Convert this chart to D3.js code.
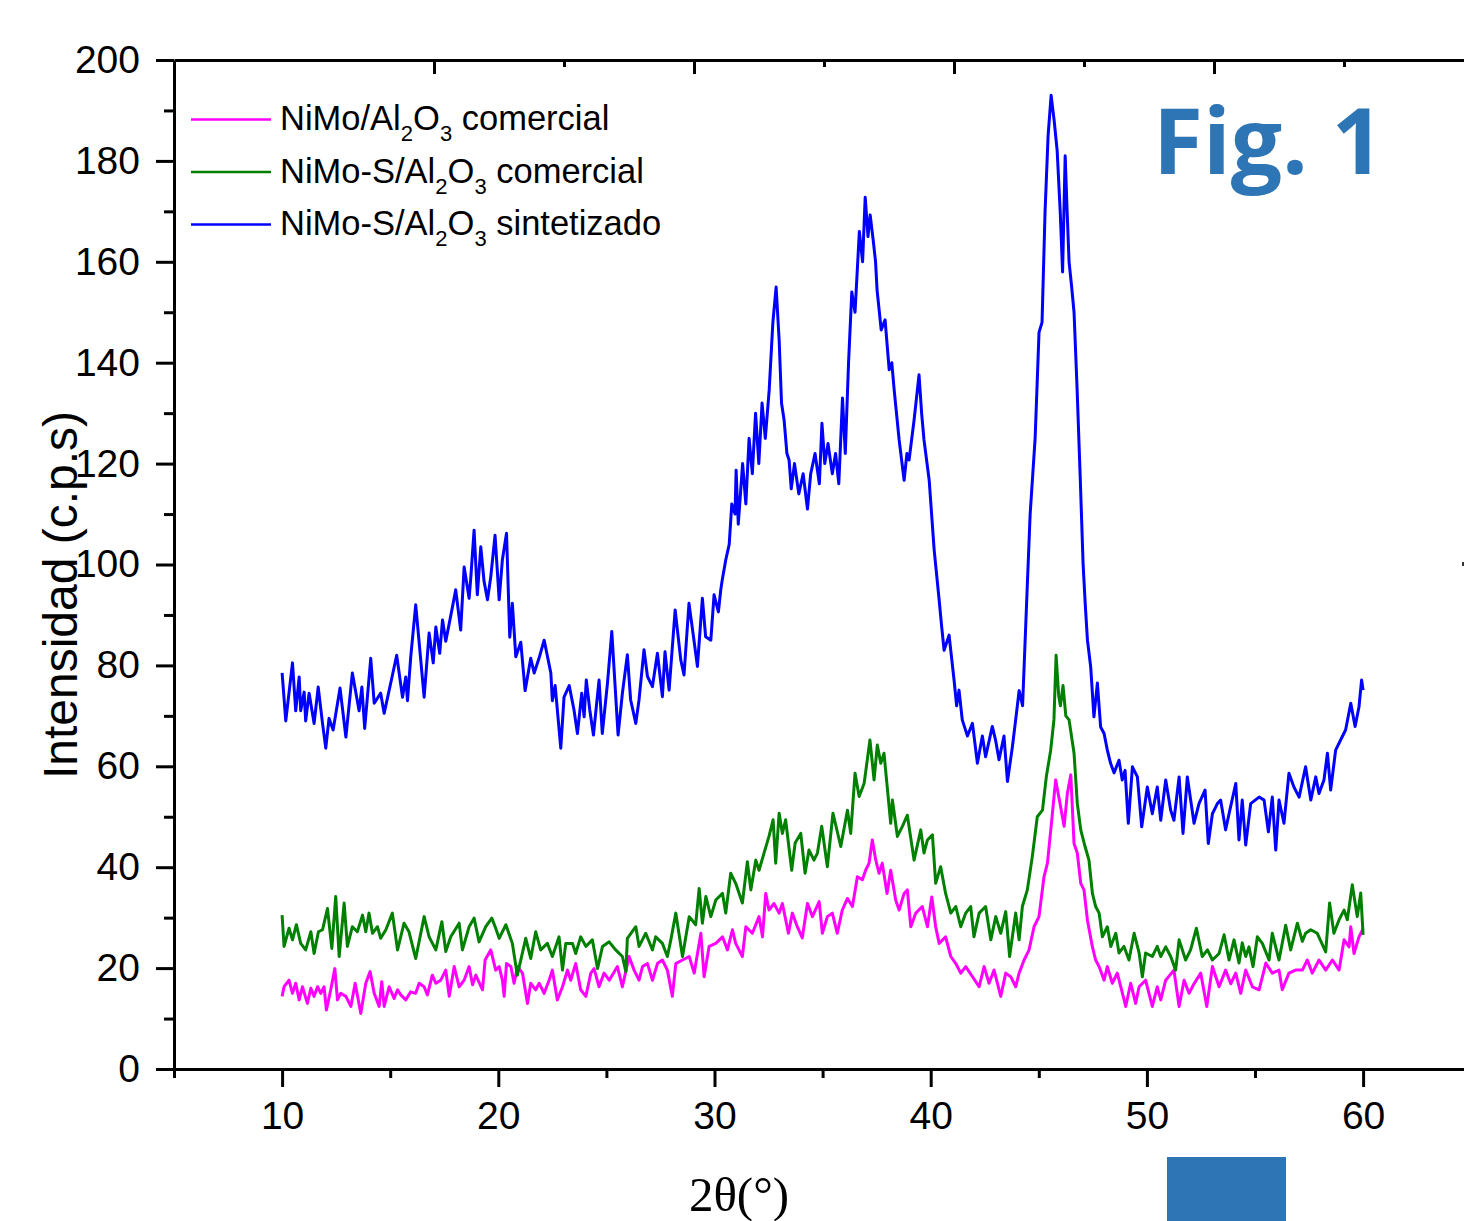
<!DOCTYPE html>
<html>
<head>
<meta http-equiv="Content-Type" content="text/html;charset=utf-8">
<title>Fig. 1</title>
<script src="https://d3js.org/d3.v7.min.js"></script>
<style>
  html, body { margin: 0; padding: 0; background: #fff; }
  svg { display: block; font-family: "Liberation Sans", Arial, sans-serif; }
  .axis path, .axis line { stroke: #000; stroke-width: 3px; }
  .axis text { font-size: 39px; fill: #000; font-family: "Liberation Sans", Arial, sans-serif; }
  .serie { fill: none; stroke-width: 3px; stroke-linejoin: round; }
</style>
</head>
<body>
<script>

// 2theta ticks
var xTicks = [10, 20, 30, 40, 50, 60];
var xMinor = [5, 15, 25, 35, 45, 55, 65];
var yTicks = [0, 20, 40, 60, 80, 100, 120, 140, 160, 180, 200];
var yMinor = [10, 30, 50, 70, 90, 110, 130, 150, 170, 190];
// top frame axis (no labels)
var topTicks = [1, 2, 3, 4, 5];
var topMinor = [1.5, 2.5, 3.5, 4.5];

var names = ["NiMo/Al_2O_3 comercial", "NiMo-S/Al_2O_3 comercial", "NiMo-S/Al_2O_3 sintetizado"];
var colors = ["#ff00ff", "#008000", "#0000ff"];

// [2theta, cps]
var pinkData = [[10.0,14.4],[10.09,16.3],[10.32,17.6],[10.48,15],[10.63,17],[10.79,13.7],[10.94,16.3],[11.17,13],[11.33,16],[11.48,14.4],[11.64,16.3],[11.79,15],[11.94,16.3],[12.05,11.7],[12.25,15.7],[12.44,19.9],[12.56,13.7],[12.71,15],[12.95,14.4],[13.18,12.4],[13.38,17],[13.64,11],[13.87,17],[14.07,19.3],[14.26,15],[14.49,12.4],[14.61,17.3],[14.72,12.4],[14.95,16.3],[15.18,14],[15.34,15.7],[15.49,14.7],[15.72,13.7],[15.95,15.3],[16.18,15],[16.34,17],[16.57,16.3],[16.72,14.7],[16.95,18.6],[17.11,17],[17.34,17.6],[17.57,19.6],[17.73,14.4],[17.96,20.3],[18.19,16.3],[18.42,17.6],[18.65,20.3],[18.81,16.7],[18.96,18.6],[19.27,15.7],[19.39,21.6],[19.65,23.6],[19.88,19.6],[20.04,20.3],[20.19,17.6],[20.27,14.4],[20.38,20.9],[20.58,20.3],[20.73,17],[20.89,20.3],[21.12,19],[21.35,13],[21.5,17],[21.73,15.7],[21.89,17],[22.12,15],[22.35,17.6],[22.5,19.6],[22.73,13.7],[22.97,16.3],[23.2,19.6],[23.35,17.6],[23.58,20.9],[23.81,15.7],[24.05,14.4],[24.28,19],[24.43,19.9],[24.66,16.3],[24.89,19],[25.13,17.6],[25.51,20.3],[25.74,16.3],[26.05,22.3],[26.28,19.6],[26.51,17.6],[26.67,20.3],[26.9,20.9],[27.13,17.6],[27.36,20.9],[27.59,21.6],[27.82,19.6],[28.05,14.4],[28.21,20.9],[28.52,21.6],[28.83,22.3],[29.06,19],[29.37,26.9],[29.52,18.3],[29.75,24.3],[30.06,24.9],[30.37,26.2],[30.6,23.6],[30.83,27.6],[30.98,24.9],[31.29,22.3],[31.45,28.2],[31.75,26.9],[32.06,30.2],[32.22,26.2],[32.37,34.8],[32.52,31.5],[32.75,32.8],[32.99,30.9],[33.14,32.8],[33.42,26.9],[33.6,30.9],[33.83,28.2],[34.06,26],[34.3,32.8],[34.53,30.2],[34.84,33.2],[34.99,26.9],[35.22,30.2],[35.45,30.9],[35.68,26.9],[35.91,31.5],[36.15,33.8],[36.38,32.2],[36.61,38.1],[36.84,37.5],[36.99,39.4],[37.15,40.8],[37.3,45.4],[37.46,41.4],[37.61,38.8],[37.76,40.8],[37.98,34.8],[38.15,39.4],[38.38,33.5],[38.54,31.5],[38.77,34.8],[38.92,35.5],[39.08,28.2],[39.31,30.9],[39.61,32.2],[39.85,28.2],[40.05,34.1],[40.23,28.2],[40.39,24.9],[40.69,26.2],[40.93,22.3],[41.16,20.9],[41.39,19],[41.62,20.3],[41.93,18.3],[42.24,16.3],[42.47,20.3],[42.7,17],[42.93,19.6],[43.24,14.4],[43.47,19],[43.7,18.3],[43.93,16.3],[44.09,19],[44.32,21.6],[44.55,23.6],[44.78,28.2],[45.01,30.2],[45.24,38.1],[45.4,40.8],[45.6,49.4],[45.78,57.3],[46.01,52],[46.17,48.1],[46.32,54.6],[46.48,58.3],[46.63,44.7],[46.78,42.8],[46.94,36.8],[47.09,35.5],[47.25,29.5],[47.48,24.2],[47.63,21.6],[47.79,20.3],[48.02,17.6],[48.17,20.3],[48.4,17],[48.63,19],[48.87,15],[49.02,12.4],[49.25,17],[49.48,13],[49.64,16.3],[49.94,17.6],[50.25,12.4],[50.48,16.3],[50.64,13.7],[50.87,17.6],[51.25,19.6],[51.49,12.4],[51.72,17.6],[51.95,15],[52.18,16.9],[52.49,19],[52.77,12.4],[53.03,20.3],[53.34,16.3],[53.64,19.6],[53.88,16.9],[54.11,19],[54.34,15],[54.57,19.6],[54.88,16.3],[55.19,15.7],[55.5,21],[55.8,19],[56.11,19.6],[56.26,15.7],[56.57,19],[56.88,19.6],[57.19,19.6],[57.42,21.6],[57.65,19],[57.96,21.6],[58.27,19.6],[58.58,21.6],[58.89,19.6],[59.12,25.6],[59.35,24.2],[59.43,28.2],[59.58,22.9],[59.81,26.2],[60.0,27.8]];

var greenData = [[10.0,30.5],[10.09,24.3],[10.32,27.9],[10.48,25.6],[10.66,28.6],[10.86,24.9],[11.09,23.6],[11.33,27.2],[11.48,22.9],[11.68,27.2],[11.87,27.6],[12.1,31.8],[12.3,23.9],[12.48,34.2],[12.64,22.3],[12.87,32.9],[13.02,24.3],[13.25,28.2],[13.48,27.2],[13.72,30.5],[13.87,27.2],[14.02,30.9],[14.18,26.9],[14.41,28.2],[14.56,25.9],[14.8,27.6],[15.1,30.9],[15.34,23.6],[15.64,28.9],[15.87,27.2],[16.18,21.9],[16.57,30.2],[16.8,26.2],[17.11,23.6],[17.39,29.2],[17.57,23.3],[17.8,26.2],[18.19,28.9],[18.34,23.6],[18.65,28.2],[18.88,29.9],[19.11,25.2],[19.42,28.2],[19.7,29.9],[19.88,27.9],[20.04,25.9],[20.35,28.6],[20.65,24.9],[20.88,18.6],[21.27,25.9],[21.5,21.9],[21.73,27.2],[21.96,23.6],[22.27,24.9],[22.5,22.3],[22.81,26.2],[22.97,19.6],[23.12,24.9],[23.43,24.9],[23.58,22.9],[23.81,26.2],[24.05,24.3],[24.35,25.6],[24.59,19.9],[24.82,24.3],[25.13,25.2],[25.43,23.6],[25.74,22.3],[25.9,19.3],[25.97,25.9],[26.36,28.2],[26.51,24.3],[26.82,26.9],[27.13,23.6],[27.28,26.2],[27.59,24.9],[27.82,22.3],[27.98,25.6],[28.21,30.9],[28.52,22.3],[28.83,30.2],[29.13,28.6],[29.29,35.8],[29.44,28.9],[29.6,34.2],[29.83,30.2],[30.06,33.5],[30.37,34.8],[30.52,30.9],[30.75,38.8],[30.98,36.8],[31.29,32.9],[31.52,41.1],[31.68,35.5],[31.91,41.4],[32.06,39.4],[32.29,42.8],[32.52,46.1],[32.71,49.4],[32.83,40.8],[32.99,50.7],[33.14,46.7],[33.29,49.4],[33.57,39.4],[33.73,44.8],[33.99,46.7],[34.19,38.8],[34.37,43.4],[34.6,41.4],[34.76,42.8],[34.96,48.1],[35.22,40.1],[35.48,50.7],[35.84,44.1],[36.15,51.3],[36.3,46.7],[36.5,58.6],[36.69,54],[36.92,56.6],[37.19,65.2],[37.38,57.3],[37.53,64.2],[37.69,60.6],[37.84,62.6],[38.15,48.7],[38.23,53.3],[38.46,46.1],[38.69,48.1],[38.92,50.3],[39.23,41.4],[39.54,47.4],[39.69,42.8],[39.85,45.4],[40.08,46.4],[40.23,36.8],[40.46,40.1],[40.69,34.8],[40.93,30.9],[41.16,32.2],[41.39,28.2],[41.62,30.9],[41.85,32.2],[42.0,26.2],[42.24,30.9],[42.54,32.2],[42.78,25.6],[43.01,30.2],[43.24,26.9],[43.47,31.2],[43.65,22.3],[43.93,30.9],[44.09,25.6],[44.24,32.2],[44.47,35.5],[44.7,42.1],[44.93,50],[45.17,51.3],[45.35,58],[45.55,63.2],[45.7,69.2],[45.8,82],[45.92,74],[46.0,72],[46.12,76],[46.25,70],[46.4,69.2],[46.63,62.6],[46.78,52.7],[46.94,47.4],[47.14,44.1],[47.32,41.4],[47.48,34.8],[47.63,32.2],[47.79,30.9],[47.94,26.2],[48.17,28.2],[48.33,24.3],[48.56,26.9],[48.71,23],[48.94,24.3],[49.17,21.6],[49.41,26.9],[49.64,23],[49.79,18.3],[49.94,23],[50.25,22.3],[50.48,24.3],[50.64,22.3],[50.87,24.2],[51.1,22.3],[51.33,19.6],[51.49,25.6],[51.79,21.6],[52.02,23.6],[52.29,27.9],[52.56,22.3],[52.8,23.6],[53.03,21.6],[53.34,22.9],[53.57,26.6],[53.8,21.6],[54.03,25.6],[54.26,21],[54.41,25],[54.57,22.3],[54.72,24.2],[54.91,20.3],[55.11,26.2],[55.34,24.9],[55.65,21.6],[55.8,26.9],[56.11,21.6],[56.42,28.5],[56.65,23.6],[56.96,28.9],[57.19,25.3],[57.34,26.9],[57.58,27.6],[57.88,26.9],[58.27,23.2],[58.45,32.9],[58.65,26.9],[58.89,29.6],[59.12,31.5],[59.27,29.6],[59.5,36.5],[59.73,30.2],[59.89,34.9],[60.0,26.6]];

var blueData = [[10.0,78.5],[10.17,69],[10.48,80.5],[10.63,71],[10.79,77.7],[10.86,71],[11.02,74.7],[11.09,69],[11.25,74.5],[11.48,68.5],[11.67,75.7],[11.87,68.5],[12.02,63.6],[12.17,69.5],[12.36,67.2],[12.68,75.5],[12.95,65.8],[13.25,78.5],[13.56,71],[13.69,75.7],[13.82,67.5],[14.1,81.4],[14.26,72.5],[14.56,74.5],[14.72,70.5],[15.1,78],[15.3,82],[15.57,73.7],[15.72,77.7],[15.8,73],[15.95,81.7],[16.18,92],[16.57,73.7],[16.8,86.4],[16.99,80.5],[17.11,87.6],[17.29,82.4],[17.42,89],[17.57,84.8],[17.88,91.6],[18.03,95],[18.26,87],[18.42,99.5],[18.65,93.3],[18.73,97.5],[18.88,106.8],[19.03,94],[19.19,103.5],[19.34,96.7],[19.5,93],[19.65,97.5],[19.85,105.8],[20.04,93],[20.19,101],[20.38,106.2],[20.53,85.6],[20.65,92.3],[20.81,81.7],[21.04,84.6],[21.24,75],[21.5,81.4],[21.66,78.5],[21.89,81.5],[22.12,85],[22.43,78.5],[22.5,73],[22.63,76],[22.89,63.6],[23.04,73.7],[23.28,76],[23.5,71.2],[23.66,66.5],[23.86,74.5],[23.97,69.8],[24.07,77.1],[24.23,71.2],[24.4,66.2],[24.66,77.1],[24.81,66.5],[25.05,76.5],[25.25,86.7],[25.54,66.2],[25.74,74.5],[25.97,82.1],[26.12,73.2],[26.36,68.5],[26.51,73.2],[26.74,83.1],[26.9,77.8],[27.13,75.8],[27.36,82.4],[27.59,73.8],[27.71,82.7],[27.9,75.1],[28.18,91],[28.44,81.1],[28.59,78.1],[28.82,92.3],[29.05,85],[29.21,79.8],[29.44,93.3],[29.59,85.7],[29.83,85],[29.98,94],[30.18,90.6],[30.29,95],[30.36,97],[30.52,100.9],[30.68,104],[30.8,112],[30.95,110],[31.0,118.7],[31.1,108],[31.3,120],[31.45,112],[31.6,125],[31.75,118],[31.9,130],[32.05,120],[32.2,132],[32.35,125],[32.53,134.6],[32.7,148],[32.85,155],[32.99,144.5],[33.1,132],[33.22,128.6],[33.35,122],[33.45,120.7],[33.55,115],[33.7,120],[33.9,114],[34.1,118],[34.3,111],[34.45,118],[34.65,122],[34.85,116],[34.97,128],[35.1,120],[35.25,124],[35.45,118],[35.6,122],[35.75,116],[35.92,133],[36.05,122],[36.2,140],[36.35,154],[36.5,150],[36.7,166],[36.85,160],[36.97,172.8],[37.1,165],[37.2,169.3],[37.34,164.3],[37.45,160],[37.52,154.4],[37.71,146.5],[37.89,148.5],[38.08,138.6],[38.2,140],[38.31,134.6],[38.54,124.7],[38.77,116.7],[38.9,122],[39.0,120.7],[39.23,128.6],[39.46,137.6],[39.58,130],[39.69,124.7],[39.93,116.7],[40.16,102.9],[40.39,93],[40.5,88],[40.62,83],[40.85,86],[41.08,77.1],[41.2,72],[41.31,75.1],[41.46,69.2],[41.7,66],[41.93,68.5],[42.16,60.6],[42.39,66],[42.54,61.9],[42.85,67.9],[43.0,65.2],[43.16,61.3],[43.39,66],[43.55,57],[43.78,63.9],[43.93,69.2],[44.09,75],[44.25,72],[44.46,95],[44.6,110],[44.83,125],[45.01,146],[45.15,148],[45.29,170],[45.43,185],[45.57,193],[45.71,188],[45.85,182],[45.99,170],[46.1,158],[46.22,181],[46.31,170],[46.4,160],[46.52,155],[46.63,150],[46.77,135],[46.91,118],[47.05,100],[47.15,92],[47.25,85],[47.4,79.7],[47.55,69.8],[47.71,76.5],[47.86,67.8],[48.02,66.5],[48.17,63.2],[48.32,60.6],[48.48,58.7],[48.71,61.2],[48.86,57.3],[48.99,59.2],[49.14,48.7],[49.33,59.9],[49.56,57.9],[49.76,48],[50.02,55.9],[50.25,50.6],[50.48,55.9],[50.64,49.3],[50.87,57.3],[51.1,51.3],[51.25,49.3],[51.49,57.9],[51.67,46.7],[51.87,57.9],[52.18,48.7],[52.41,52.6],[52.69,55.3],[52.84,44.7],[53.03,50.6],[53.26,52.6],[53.41,53.3],[53.64,47.4],[53.8,50.6],[54.11,56.6],[54.26,45.4],[54.41,53.3],[54.57,44.4],[54.8,52.6],[55.19,53.9],[55.42,53.3],[55.62,47],[55.8,53.9],[55.96,43.4],[56.11,53.3],[56.34,48.7],[56.57,58.6],[56.8,55.9],[57.04,53.9],[57.34,59.9],[57.58,53.3],[57.81,57.9],[57.96,54.6],[58.19,57.3],[58.35,62.6],[58.5,55.3],[58.73,63.2],[59.04,65.9],[59.19,67.2],[59.43,72.5],[59.63,67.9],[59.81,71.8],[59.93,77.1],[60.0,75.1]];

var series = [pinkData, greenData, blueData];

var W = 1464, H = 1221;

var svg = d3.select("body").append("svg")
  .attr("width", W)
  .attr("height", H);

var x = d3.scaleLinear().domain([5, 65]).range([174, 1471.2]);
var y = d3.scaleLinear().domain([0, 200]).range([1069, 60]);
var xTop = d3.scaleLinear().domain([0, 5]).range([174, 1474]);

// frame top
var gTop = svg.append("g").attr("class", "axis").attr("transform", "translate(0,60)");
gTop.call(d3.axisBottom(xTop).tickValues(topTicks).tickSize(14).tickSizeOuter(0).tickFormat(""));
gTop.append("g").call(d3.axisBottom(xTop).tickValues(topMinor).tickSize(7).tickSizeOuter(0).tickFormat(""))
  .select(".domain").remove();

// bottom axis
var gx = svg.append("g").attr("class", "axis").attr("transform", "translate(0,1069)");
gx.call(d3.axisBottom(x).tickValues(xTicks).tickSize(18).tickSizeOuter(0).tickPadding(14));
gx.append("g").call(d3.axisBottom(x).tickValues(xMinor).tickSize(9).tickSizeOuter(0).tickFormat(""))
  .select(".domain").remove();

// left axis
var gy = svg.append("g").attr("class", "axis").attr("transform", "translate(174,0)");
gy.call(d3.axisLeft(y).tickValues(yTicks).tickSize(18).tickSizeOuter(0).tickPadding(16));
gy.append("g").call(d3.axisLeft(y).tickValues(yMinor).tickSize(10).tickSizeOuter(0).tickFormat(""))
  .select(".domain").remove();

svg.selectAll(".axis text").attr("fill", "#000");

// curves
var line = d3.line()
  .x(function(d) { return x(d[0]); })
  .y(function(d) { return y(d[1]); });

svg.selectAll(".serie")
  .data(series)
  .enter().append("path")
  .attr("class", "serie")
  .attr("stroke", function(d, i) { return colors[i]; })
  .attr("d", line);

// legend
var legend = svg.append("g").attr("transform", "translate(191,130)");
names.forEach(function(n, i) {
  var row = legend.append("g").attr("transform", "translate(0," + (i * 52.5) + ")");
  row.append("line")
    .attr("x1", 0).attr("x2", 80)
    .attr("y1", -10.5).attr("y2", -10.5)
    .attr("stroke", colors[i]).attr("stroke-width", 2.5);
  var t = row.append("text").attr("x", 89).attr("y", 0)
    .style("font-size", "34.5px").attr("fill", "#000");
  var parts = n.split(/_(\d)/);
  parts.forEach(function(p, k) {
    if (k % 2 === 1) {
      t.append("tspan").attr("dy", 11).style("font-size", "22px").text(p);
    } else {
      t.append("tspan").attr("dy", k === 0 ? 0 : -11).text(p);
    }
  });
});

// axis titles
svg.append("text")
  .attr("transform", "translate(77,595) rotate(-90)")
  .attr("text-anchor", "middle")
  .style("font-size", "48px")
  .attr("fill", "#000")
  .text("Intensidad (c.p.s)");

svg.append("text")
  .attr("x", 739).attr("y", 1211)
  .attr("text-anchor", "middle")
  .style("font-family", "'Liberation Serif', 'Times New Roman', serif")
  .style("font-size", "49px")
  .attr("fill", "#000")
  .text("2\u03b8(\u00b0)");

// figure tag
svg.append("text")
  .attr("x", 1153).attr("y", 174)
  .style("font-family", "'Open Sans', sans-serif")
  .style("font-weight", 700)
  .style("font-size", "91px")
  .attr("fill", "#2e75b6")
  .text("Fig. 1");

svg.append("rect")
  .attr("x", 1167).attr("y", 1157)
  .attr("width", 119).attr("height", 64)
  .attr("fill", "#2e75b6");

svg.append("rect")
  .attr("x", 1462).attr("y", 562)
  .attr("width", 2).attr("height", 4)
  .attr("fill", "#333");

</script>
</body>
</html>
